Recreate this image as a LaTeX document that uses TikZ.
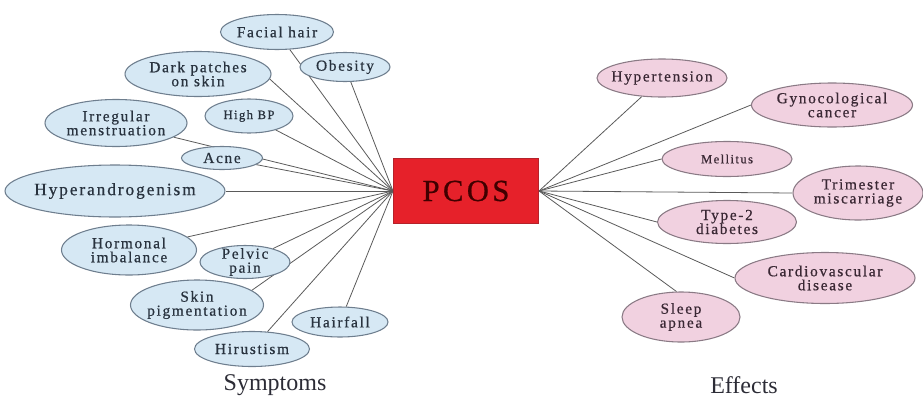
\documentclass[tikz,border=0pt]{standalone}
\usepackage{fontspec}
\setmainfont{Liberation Serif}
\newfontfamily\lblfont[LetterSpace=11, FakeBold=0.6]{Liberation Serif}
\usetikzlibrary{shapes.geometric, backgrounds}
\definecolor{symfill}{HTML}{D6E8F4}
\definecolor{symline}{HTML}{6E7E8E}
\definecolor{symtext}{HTML}{28323E}
\definecolor{efffill}{HTML}{F1D1E0}
\definecolor{effline}{HTML}{8A7A85}
\definecolor{efftext}{HTML}{3A2834}
\definecolor{linkgray}{HTML}{5A5A5A}
\definecolor{txtgray}{HTML}{2C2C36}
\definecolor{pcosred}{HTML}{E6212A}
\definecolor{pcosedge}{HTML}{B5222A}
\tikzset{
  esize/.style 2 args={minimum width=#1*0.75pt, minimum height=#2*0.75pt},
  bubble/.style 2 args={ellipse, inner sep=0pt, line width=0.8pt,
    label={[align=center, text=#2, font=\lblfont\fontsize{11.5}{10.5}\selectfont]center:#1}},
  smallbubble/.style 2 args={ellipse, inner sep=0pt, line width=0.8pt,
    label={[align=center, text=#2, font=\lblfont\fontsize{9.5}{10}\selectfont]center:#1}},
  sym/.style={bubble={#1}{symtext}, draw=symline, fill=symfill},
  symsmall/.style={smallbubble={#1}{symtext}, draw=symline, fill=symfill},
  eff/.style={bubble={#1}{efftext}, draw=effline, fill=efffill},
  effsmall/.style={smallbubble={#1}{efftext}, draw=effline, fill=efffill},
  link/.style={draw=linkgray, line width=0.6pt},
  caption/.style={text=txtgray, font=\fontsize{18}{20}\selectfont, inner sep=0pt},
}
\begin{document}
\begin{tikzpicture}[x=0.75pt, y=-0.75pt]
\useasboundingbox (0,0) rectangle (923,400);

% central box
\node[draw=pcosedge, fill=pcosred, line width=0.8pt, esize={145}{65},
      text=black!75!red, font=\lblfont\fontsize{23}{24}\selectfont] (pcos) at (466,191) {PCOS};

% symptoms
\node[sym={Facial hair}, esize={113}{35}] (facial) at (277,32) {};
\node[sym={Dark patches\\on skin}, esize={146}{45}] (dark) at (198,74) {};
\node[sym={Obesity}, esize={90}{29}] (obesity) at (345,67) {};
\node[sym={Irregular\\menstruation}, esize={142}{47}] (irreg) at (116,123) {};
\node[symsmall={High BP}, esize={88}{34}] (highbp) at (249,116) {};
\node[sym={Acne}, esize={81}{23}] (acne) at (222,158) {};
\node[sym={\fontsize{13}{14}\selectfont Hyperandrogenism}, esize={220}{52}] (hyper) at (115,191) {};
\node[sym={Hormonal\\imbalance}, esize={135}{50}] (hormonal) at (129,250) {};
\node[sym={Pelvic\\pain}, esize={90}{33}] (pelvic) at (245,262) {};
\node[sym={Skin\\pigmentation}, esize={133}{50}] (skin) at (197,305) {};
\node[sym={Hairfall}, esize={96}{30}] (hairfall) at (340,322) {};
\node[sym={Hirustism}, esize={115}{35}] (hirsut) at (252,349) {};

% effects
\node[eff={Hypertension}, esize={130}{38}] (hypert) at (662,78) {};
\node[eff={Gynocological\\cancer}, esize={161}{44}] (gyno) at (832,105) {};
\node[effsmall={Mellitus}, esize={130}{35}] (mell) at (727,159) {};
\node[eff={Trimester\\miscarriage}, esize={130}{54}] (trim) at (858,193) {};
\node[eff={Type-2\\diabetes}, esize={139}{43}] (type2) at (727,222) {};
\node[eff={Cardiovascular\\disease}, esize={180}{51}] (cardio) at (825,278) {};
\node[eff={Sleep\\apnea}, esize={118}{50}] (sleep) at (681,317) {};

% connectors, kept behind the bubbles
\begin{scope}[on background layer]
\foreach \n in {facial,obesity,irreg,highbp,acne,hyper,hormonal,pelvic,hairfall,hirsut}
  \draw[link] (pcos.west) -- (\n);
\draw[link] (pcos.west) -- (dark.-4);
\draw[link] (pcos.west) -- (skin.15);
\draw[link] (pcos.east) -- (hypert);
\draw[link] (pcos.east) -- (sleep.100);
\foreach \n in {gyno,mell,trim,type2,cardio}
  \draw[link] (pcos.east) -- (\n.west);
\end{scope}

% captions
\node[caption] (symcap) at (275,385) {Symptoms};
\node[caption] (effcap) at (744,385) {Effects};
\end{tikzpicture}
\end{document}
